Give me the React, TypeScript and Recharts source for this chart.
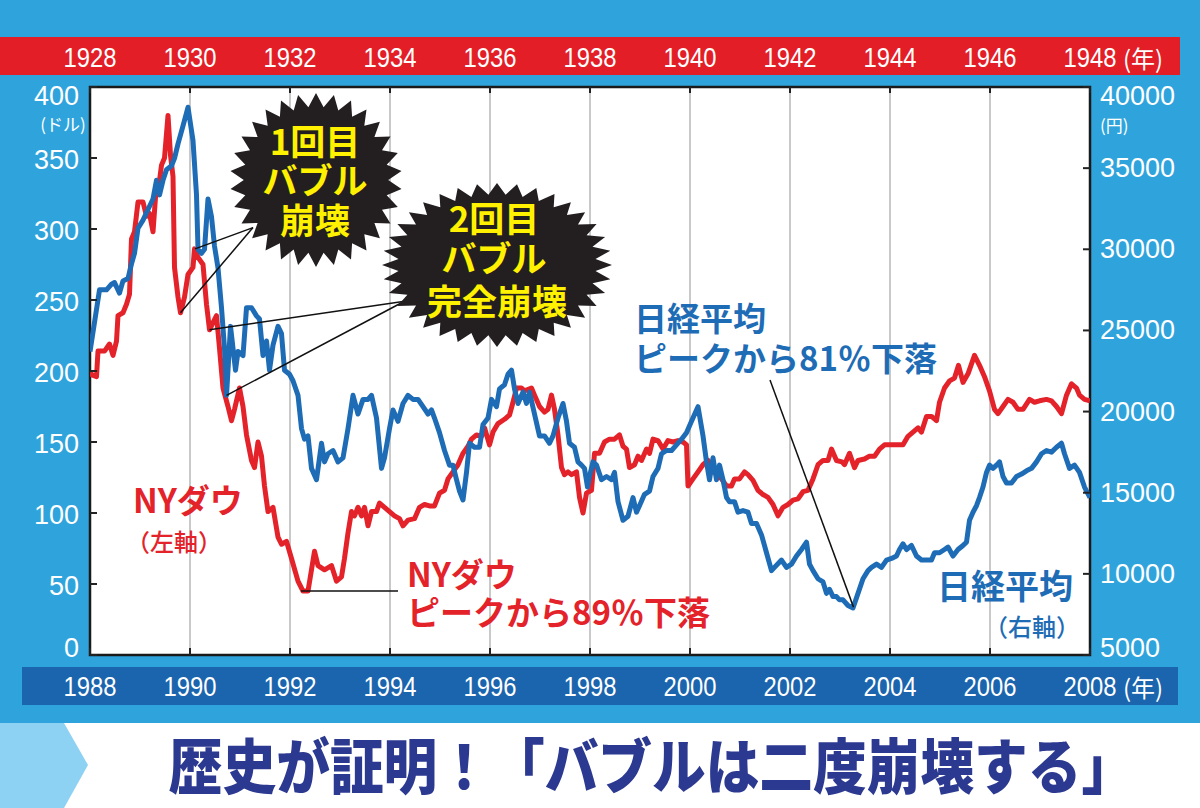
import React from "react";
import {
  LineChart,
  Line,
  XAxis,
  YAxis,
  CartesianGrid,
  ReferenceLine,
  ReferenceArea,
} from "recharts";

// NY Dow 1928-1948 (left axis, top year band)
const dowYears = [
  1928.0, 1928.05, 1928.13, 1928.16, 1928.29, 1928.39, 1928.46, 1928.53, 1928.56, 1928.66,
  1928.73, 1928.79, 1928.83, 1928.89, 1928.96, 1929.06, 1929.13, 1929.19, 1929.26, 1929.33,
  1929.39, 1929.43, 1929.49, 1929.56, 1929.61, 1929.66, 1929.69, 1929.76, 1929.81, 1929.89,
  1929.96, 1930.06, 1930.09, 1930.16, 1930.26, 1930.33, 1930.39, 1930.46, 1930.53, 1930.59,
  1930.66, 1930.76, 1930.83, 1930.89, 1930.99, 1931.06, 1931.13, 1931.23, 1931.29, 1931.36,
  1931.43, 1931.49, 1931.56, 1931.66, 1931.76, 1931.83, 1931.93, 1932.03, 1932.16, 1932.26,
  1932.36, 1932.49, 1932.56, 1932.69, 1932.83, 1932.93, 1933.03, 1933.09, 1933.16, 1933.23,
  1933.29, 1933.36, 1933.43, 1933.49, 1933.56, 1933.63, 1933.73, 1933.79, 1933.89, 1933.99,
  1934.09, 1934.19, 1934.26, 1934.36, 1934.49, 1934.59, 1934.69, 1934.79, 1934.89, 1934.99,
  1935.09, 1935.16, 1935.26, 1935.36, 1935.46, 1935.56, 1935.63, 1935.73, 1935.83, 1935.89,
  1935.99, 1936.06, 1936.16, 1936.29, 1936.39, 1936.46, 1936.53, 1936.63, 1936.69, 1936.83,
  1936.89, 1936.99, 1937.09, 1937.16, 1937.23, 1937.29, 1937.36, 1937.43, 1937.49, 1937.56,
  1937.63, 1937.73, 1937.79, 1937.86, 1937.93, 1938.03, 1938.09, 1938.19, 1938.29, 1938.39,
  1938.49, 1938.59, 1938.66, 1938.73, 1938.79, 1938.89, 1938.96, 1939.03, 1939.13, 1939.19,
  1939.26, 1939.36, 1939.46, 1939.56, 1939.66, 1939.76, 1939.86, 1939.93, 1939.96, 1940.06,
  1940.16, 1940.26, 1940.36, 1940.46, 1940.56, 1940.63, 1940.73, 1940.83, 1940.89, 1940.99,
  1941.09, 1941.16, 1941.26, 1941.36, 1941.46, 1941.56, 1941.66, 1941.76, 1941.86, 1941.96,
  1942.06, 1942.16, 1942.26, 1942.36, 1942.46, 1942.56, 1942.66, 1942.76, 1942.83, 1942.93,
  1943.04, 1943.09, 1943.19, 1943.29, 1943.36, 1943.49, 1943.59, 1943.69, 1943.79, 1943.89,
  1944.03, 1944.16, 1944.26, 1944.36, 1944.46, 1944.56, 1944.63, 1944.73, 1944.83, 1944.93,
  1944.99, 1945.09, 1945.19, 1945.29, 1945.37, 1945.46, 1945.56, 1945.69, 1945.79, 1945.89,
  1945.99, 1946.09, 1946.16, 1946.26, 1946.36, 1946.46, 1946.56, 1946.66, 1946.79, 1946.89,
  1946.99, 1947.13, 1947.23, 1947.33, 1947.43, 1947.53, 1947.63, 1947.73, 1947.79, 1947.89,
  1948.0,
];
const dowValues = [
  199, 197, 196, 214, 214, 219, 211, 221, 239, 241,
  247, 254, 293, 298, 319, 319, 309, 311, 298, 332,
  334, 345, 350, 380, 352, 337, 273, 252, 241, 252,
  268, 273, 286, 280, 275, 247, 229, 234, 239, 216,
  188, 175, 165, 173, 188, 175, 155, 137, 132, 150,
  140, 119, 101, 104, 83, 78, 80, 68, 52, 45,
  45, 73, 63, 60, 63, 52, 55, 68, 86, 101,
  98, 104, 98, 104, 91, 101, 101, 107, 104, 101,
  98, 96, 91, 95, 96, 104, 106, 105, 105, 114,
  116, 124, 129, 134, 142, 147, 152, 155, 154, 160,
  148, 157, 163, 166, 169, 178, 188, 188, 186, 188,
  183, 175, 171, 173, 183, 173, 155, 132, 127, 129,
  127, 129, 111, 100, 114, 116, 142, 142, 150, 152,
  152, 155, 147, 145, 132, 134, 140, 137, 145, 142,
  152, 151, 145, 151, 150, 151, 150, 148, 119, 124,
  129, 134, 137, 129, 127, 124, 119, 119, 124, 124,
  129, 127, 123, 116, 113, 111, 106, 98, 104, 106,
  109, 110, 115, 116, 124, 134, 137, 137, 145, 137,
  136, 134, 142, 132, 137, 138, 140, 140, 145, 148,
  148, 148, 148, 154, 157, 160, 157, 168, 168, 165,
  178, 188, 193, 195, 204, 192, 198, 211, 204, 196,
  186, 173, 170, 175, 180, 178, 173, 173, 180, 178,
  179, 180, 179, 175, 170, 183, 191, 188, 183, 180,
  179,
];

// Nikkei 225 1988-2008 (right axis, bottom year band)
const nikkeiYears = [
  1988.0, 1988.09, 1988.19, 1988.33, 1988.43, 1988.49, 1988.59, 1988.66, 1988.76, 1988.83,
  1988.89, 1988.96, 1989.06, 1989.16, 1989.26, 1989.33, 1989.39, 1989.46, 1989.53, 1989.63,
  1989.69, 1989.76, 1989.86, 1989.96, 1990.06, 1990.13, 1990.16, 1990.23, 1990.29, 1990.36,
  1990.43, 1990.49, 1990.56, 1990.63, 1990.69, 1990.73, 1990.76, 1990.81, 1990.86, 1990.91,
  1990.96, 1991.06, 1991.13, 1991.23, 1991.33, 1991.39, 1991.46, 1991.53, 1991.59, 1991.66,
  1991.76, 1991.83, 1991.89, 1991.99, 1992.06, 1992.16, 1992.23, 1992.29, 1992.36, 1992.43,
  1992.53, 1992.63, 1992.69, 1992.76, 1992.86, 1992.96, 1993.06, 1993.16, 1993.26, 1993.36,
  1993.46, 1993.56, 1993.63, 1993.73, 1993.83, 1993.89, 1993.99, 1994.06, 1994.16, 1994.26,
  1994.36, 1994.46, 1994.56, 1994.66, 1994.76, 1994.83, 1994.89, 1994.99, 1995.09, 1995.19,
  1995.26, 1995.33, 1995.39, 1995.46, 1995.53, 1995.59, 1995.69, 1995.79, 1995.86, 1995.96,
  1996.03, 1996.13, 1996.19, 1996.29, 1996.36, 1996.43, 1996.49, 1996.56, 1996.66, 1996.73,
  1996.79, 1996.89, 1996.99, 1997.09, 1997.19, 1997.26, 1997.36, 1997.46, 1997.53, 1997.59,
  1997.69, 1997.76, 1997.83, 1997.89, 1997.95, 1997.99, 1998.06, 1998.13, 1998.23, 1998.33,
  1998.43, 1998.49, 1998.56, 1998.66, 1998.76, 1998.86, 1998.93, 1998.99, 1999.09, 1999.19,
  1999.26, 1999.36, 1999.43, 1999.53, 1999.63, 1999.73, 1999.83, 1999.93, 2000.03, 2000.16,
  2000.26, 2000.33, 2000.39, 2000.46, 2000.53, 2000.59, 2000.66, 2000.73, 2000.79, 2000.89,
  2000.96, 2001.06, 2001.16, 2001.23, 2001.33, 2001.43, 2001.53, 2001.63, 2001.69, 2001.83,
  2001.93, 2002.03, 2002.13, 2002.23, 2002.33, 2002.39, 2002.46, 2002.56, 2002.66, 2002.73,
  2002.79, 2002.86, 2002.93, 2002.99, 2003.06, 2003.16, 2003.26, 2003.36, 2003.46, 2003.56,
  2003.63, 2003.73, 2003.83, 2003.93, 2004.03, 2004.13, 2004.19, 2004.26, 2004.33, 2004.43,
  2004.53, 2004.63, 2004.73, 2004.83, 2004.89, 2004.99, 2005.09, 2005.16, 2005.26, 2005.36,
  2005.46, 2005.53, 2005.59, 2005.66, 2005.73, 2005.79, 2005.86, 2005.93, 2005.99, 2006.06,
  2006.13, 2006.19, 2006.26, 2006.33, 2006.43, 2006.53, 2006.63, 2006.73, 2006.83, 2006.93,
  2007.03, 2007.13, 2007.23, 2007.33, 2007.43, 2007.49, 2007.59, 2007.69, 2007.79, 2007.89,
  2008.0,
];
const nikkeiValues = [
  23700, 25500, 27500, 27500, 27850, 27950, 27300, 28050, 28200, 29100,
  29750, 31300, 31800, 32450, 33100, 34250, 33350, 34250, 34900, 35150,
  35600, 36500, 37600, 38750, 36700, 33350, 30000, 29750, 30000, 33100,
  32000, 30200, 28850, 26400, 23900, 21000, 22550, 25250, 23900, 22550,
  23700, 23450, 26400, 26400, 25900, 25700, 23450, 24350, 22550, 24100,
  25250, 24800, 22550, 22300, 21900, 21000, 18950, 18300, 18500, 16500,
  15800, 18050, 16900, 17400, 17600, 16900, 17150, 18950, 21000, 19850,
  20750, 20750, 21000, 19600, 16500, 17150, 18950, 20100, 19400, 20500,
  21000, 20750, 20750, 20300, 19850, 20100, 19600, 18700, 17600, 16700,
  16700, 15800, 15100, 14550, 16250, 18050, 17800, 17800, 19200, 19600,
  20750, 20300, 21400, 21650, 22300, 22550, 21400, 20500, 21200, 20500,
  21200, 19850, 18500, 18500, 18050, 18500, 19600, 20500, 19400, 18050,
  17800, 16900, 16700, 16500, 15350, 16000, 16900, 16700, 15800, 16000,
  15800, 16250, 14450, 13300, 13550, 14700, 13800, 14200, 14900, 15100,
  16000, 16500, 17400, 17600, 17600, 17950, 18300, 18700, 19400, 20300,
  18500, 16900, 15800, 17150, 15800, 16700, 15800, 14700, 14450, 14450,
  13800, 13900, 13800, 13100, 13100, 12400, 11300, 10200, 10400, 10850,
  10400, 10600, 11100, 11500, 11950, 10600, 10200, 9700, 9500, 8800,
  9050, 8600, 8600, 8400, 8400, 8050, 7900, 8800, 9700, 10200,
  10400, 10600, 10400, 10850, 10950, 11100, 11500, 11850, 11500, 11750,
  11100, 10850, 10850, 10850, 11300, 11300, 11500, 11650, 11100, 11500,
  11750, 11950, 13300, 13800, 14200, 14700, 15350, 16250, 16700, 16500,
  16700, 16900, 16000, 15600, 15600, 16000, 16150, 16350, 16500, 16900,
  17400, 17600, 17500, 17800, 18050, 17400, 16500, 16700, 16250, 15350,
  14700,
];

const topTicks = [1928, 1930, 1932, 1934, 1936, 1938, 1940, 1942, 1944, 1946, 1948];
const bottomTicks = [1988, 1990, 1992, 1994, 1996, 1998, 2000, 2002, 2004, 2006, 2008];
const dowTicks = [0, 50, 100, 150, 200, 250, 300, 350, 400];
const nikkeiTicks = [5000, 10000, 15000, 20000, 25000, 30000, 35000, 40000];

// callout leaders, in data units of the axes they belong to
const dowCallouts = [
  [{ x: 1931.26, y: 301 }, { x: 1930.1, y: 286 }],
  [{ x: 1931.26, y: 301 }, { x: 1929.81, y: 241 }],
  [{ x: 1934.26, y: 249 }, { x: 1930.39, y: 229 }],
  [{ x: 1932.22, y: 45 }, { x: 1934.16, y: 45 }],
];
const nikkeiCallouts = [
  [{ x: 1994.26, y: 26750 }, { x: 1990.73, y: 21000 }],
  [{ x: 2001.6, y: 21950 }, { x: 2003.27, y: 7950 }],
];

const dowData = dowYears.map((t, i) => ({ t, v: dowValues[i] }));
const nikkeiData = nikkeiYears.map((t, i) => ({ t, v: nikkeiValues[i] }));

const W = 1200;
const H = 808;
const PLOT = { left: 90, top: 87, right: 1090, bottom: 655 };
const RED = "#e4222a";
const BLUE = "#1d6cb5";
const SKY = "#2fa4dc";
const NUM_FONT = "'Liberation Sans', Arial, sans-serif";
const JP_FONT = "'Noto Sans CJK JP', 'Noto Sans', sans-serif";

// year labels in the bands are set a little condensed
const YearLabel = ({ x, y, v }: { x: number; y: number; v: number }) => (
  <text
    x={x}
    y={y}
    textAnchor="middle"
    dominantBaseline="central"
    fill="#fff"
    fontSize={28}
    fontFamily={NUM_FONT}
    textLength={53}
    lengthAdjust="spacingAndGlyphs"
  >
    {v}
  </text>
);

const TopTick = (props: any) => {
  const { x, payload } = props;
  const v = payload.value;
  return (
    <g>
      <line x1={x} x2={x} y1={PLOT.top} y2={PLOT.top + 6} stroke="#222" strokeWidth={2} />
      <YearLabel x={x} y={57} v={v} />
      {v === 1948 && (
        <text x={x + 33} y={57} dominantBaseline="central" fill="#fff" fontSize={24} fontFamily={JP_FONT}>
          (年)
        </text>
      )}
    </g>
  );
};

const BottomTick = (props: any) => {
  const { x, payload } = props;
  const v = payload.value;
  return (
    <g>
      <line x1={x} x2={x} y1={PLOT.bottom} y2={PLOT.bottom - 7} stroke="#222" strokeWidth={2} />
      <YearLabel x={x} y={686} v={v} />
      {v === 2008 && (
        <text x={x + 33} y={686} dominantBaseline="central" fill="#fff" fontSize={24} fontFamily={JP_FONT}>
          (年)
        </text>
      )}
    </g>
  );
};

const LeftTick = (props: any) => {
  const { y, payload } = props;
  const v = payload.value;
  const dy = v === 400 ? 9 : v === 0 ? -7 : 2;
  return (
    <g>
      <line x1={PLOT.left} x2={PLOT.left + 7} y1={y} y2={y} stroke="#222" strokeWidth={2} />
      <text x={79} y={y + dy} textAnchor="end" dominantBaseline="central" fill="#fff" fontSize={27} fontFamily={NUM_FONT}>
        {v}
      </text>
    </g>
  );
};

const RightTick = (props: any) => {
  const { y, payload } = props;
  const v = payload.value;
  const dy = v === 40000 ? 9 : v === 5000 ? -7 : 0;
  return (
    <g>
      <line x1={PLOT.right} x2={PLOT.right - 7} y1={y} y2={y} stroke="#222" strokeWidth={2} />
      <text x={1100} y={y + dy} dominantBaseline="central" fill="#fff" fontSize={27} fontFamily={NUM_FONT}>
        {v}
      </text>
    </g>
  );
};

function burst(cx: number, cy: number, rx: number, ry: number, n: number, inner: number) {
  const pts: string[] = [];
  for (let i = 0; i < n * 2; i++) {
    const a = (Math.PI * i) / n - Math.PI / 2;
    const k = i % 2 === 0 ? 1 : inner;
    pts.push(`${(cx + rx * k * Math.cos(a)).toFixed(1)},${(cy + ry * k * Math.sin(a)).toFixed(1)}`);
  }
  return pts.join(" ");
}

const Overlay = () => (
  <svg width={W} height={H} style={{ position: "absolute", left: 0, top: 0, pointerEvents: "none" }}>
    {/* starbursts */}
    <polygon points={burst(316, 180, 86, 87, 30, 0.84)} fill="#231f20" />
    <text fill="#fff100" fontFamily={JP_FONT} fontWeight={700} fontSize={35} textAnchor="middle">
      <tspan x={315} y={155}>1回目</tspan>
      <tspan x={315} y={194}>バブル</tspan>
      <tspan x={315} y={234}>崩壊</tspan>
    </text>
    <polygon points={burst(497, 265, 115, 82, 36, 0.86)} fill="#231f20" />
    <text fill="#fff100" fontFamily={JP_FONT} fontWeight={700} fontSize={35} textAnchor="middle">
      <tspan x={494} y={232}>2回目</tspan>
      <tspan x={494} y={272}>バブル</tspan>
      <tspan x={497} y={315}>完全崩壊</tspan>
    </text>

    {/* series labels */}
    <g fontFamily={JP_FONT} dominantBaseline="central">
      <text x={133} y={499} fill={RED} fontSize={33} fontWeight={700}>NYダウ</text>
      <text x={126} y={540} fill={RED} fontSize={24} fontWeight={500}>（左軸）</text>
      <text x={407} y={573} fill={RED} fontSize={33} fontWeight={700}>NYダウ</text>
      <text x={407} y={611} fill={RED} fontSize={33} fontWeight={700}>ピークから89％下落</text>
      <text x={634} y={317} fill={BLUE} fontSize={33} fontWeight={700}>日経平均</text>
      <text x={634} y={357} fill={BLUE} fontSize={33} fontWeight={700}>ピークから81％下落</text>
      <text x={1073} y={584} fill={BLUE} fontSize={34} fontWeight={700} textAnchor="end">日経平均</text>
      <text x={1080} y={625} fill={BLUE} fontSize={24} fontWeight={500} textAnchor="end">（右軸）</text>
    </g>

    {/* axis unit notes */}
    <text x={63} y={123} fill="#fff" fontSize={17} fontFamily={JP_FONT} textAnchor="middle" dominantBaseline="central">(ドル)</text>
    <text x={1100} y={124} fill="#fff" fontSize={17} fontFamily={JP_FONT} dominantBaseline="central">(円)</text>

    {/* bottom title */}
    <polygon points="0,723 64,723 88,765 64,808 0,808" fill="#8ed2f3" />
    <text
      transform="translate(652 789) scale(0.895 1)"
      x={0}
      y={0}
      fill="#2b3990"
      fontSize={60}
      fontWeight={900}
      fontFamily={JP_FONT}
      textAnchor="middle"
    >
      歴史が証明！「バブルは二度崩壊する」
    </text>
  </svg>
);

export default function App() {
  return (
    <div style={{ position: "absolute", left: 0, top: 0, width: W, height: H, background: SKY, overflow: "hidden" }}>
      <div style={{ position: "absolute", left: 0, top: 37, width: 1180, height: 38, background: "#e31e26" }} />
      <div style={{ position: "absolute", left: 22, top: 667, width: 1156, height: 38, background: "#1b64ae" }} />
      <div style={{ position: "absolute", left: 0, top: 723, width: W, height: H - 723, background: "#fff" }} />
      <div style={{ position: "absolute", left: 0, top: 0 }}>
        <LineChart width={W} height={H} margin={{ top: 47, right: 10, bottom: 103, left: 10 }}>
          <CartesianGrid
            xAxisId="bottom"
            yAxisId="left"
            horizontal={false}
            vertical
            stroke="#c9c9c9"
            strokeWidth={2}
            fill="#fff"
            fillOpacity={1}
          />
          <XAxis
            xAxisId="top"
            orientation="top"
            dataKey="t"
            type="number"
            domain={[1928, 1948]}
            ticks={topTicks}
            interval={0}
            height={40}
            axisLine={false}
            tickLine={false}
            tick={<TopTick />}
            allowDataOverflow
          />
          <XAxis
            xAxisId="bottom"
            orientation="bottom"
            dataKey="t"
            type="number"
            domain={[1988, 2008]}
            ticks={bottomTicks}
            interval={0}
            height={50}
            axisLine={false}
            tickLine={false}
            tick={<BottomTick />}
            allowDataOverflow
          />
          <YAxis
            yAxisId="left"
            orientation="left"
            type="number"
            domain={[0, 400]}
            ticks={dowTicks}
            interval={0}
            width={80}
            axisLine={false}
            tickLine={false}
            tick={<LeftTick />}
            allowDataOverflow
          />
          <YAxis
            yAxisId="right"
            orientation="right"
            type="number"
            domain={[5000, 40000]}
            ticks={nikkeiTicks}
            interval={0}
            width={100}
            axisLine={false}
            tickLine={false}
            tick={<RightTick />}
            allowDataOverflow
          />
          <Line
            xAxisId="top"
            yAxisId="left"
            data={dowData}
            dataKey="v"
            type="linear"
            stroke={RED}
            strokeWidth={5}
            strokeLinejoin="round"
            dot={false}
            activeDot={false}
            isAnimationActive={false}
          />
          <Line
            xAxisId="bottom"
            yAxisId="right"
            data={nikkeiData}
            dataKey="v"
            type="linear"
            stroke={BLUE}
            strokeWidth={5}
            strokeLinejoin="round"
            dot={false}
            activeDot={false}
            isAnimationActive={false}
          />
          {dowCallouts.map((seg, i) => (
            <ReferenceLine key={`d${i}`} xAxisId="top" yAxisId="left" segment={seg} stroke="#111" strokeWidth={1.5} />
          ))}
          {nikkeiCallouts.map((seg, i) => (
            <ReferenceLine key={`n${i}`} xAxisId="bottom" yAxisId="right" segment={seg} stroke="#111" strokeWidth={1.5} />
          ))}
          <ReferenceArea
            xAxisId="bottom"
            yAxisId="left"
            x1={1988}
            x2={2008}
            y1={0}
            y2={400}
            fill="none"
            stroke="#1a1a1a"
            strokeWidth={2.5}
          />
        </LineChart>
      </div>
      <Overlay />
    </div>
  );
}
